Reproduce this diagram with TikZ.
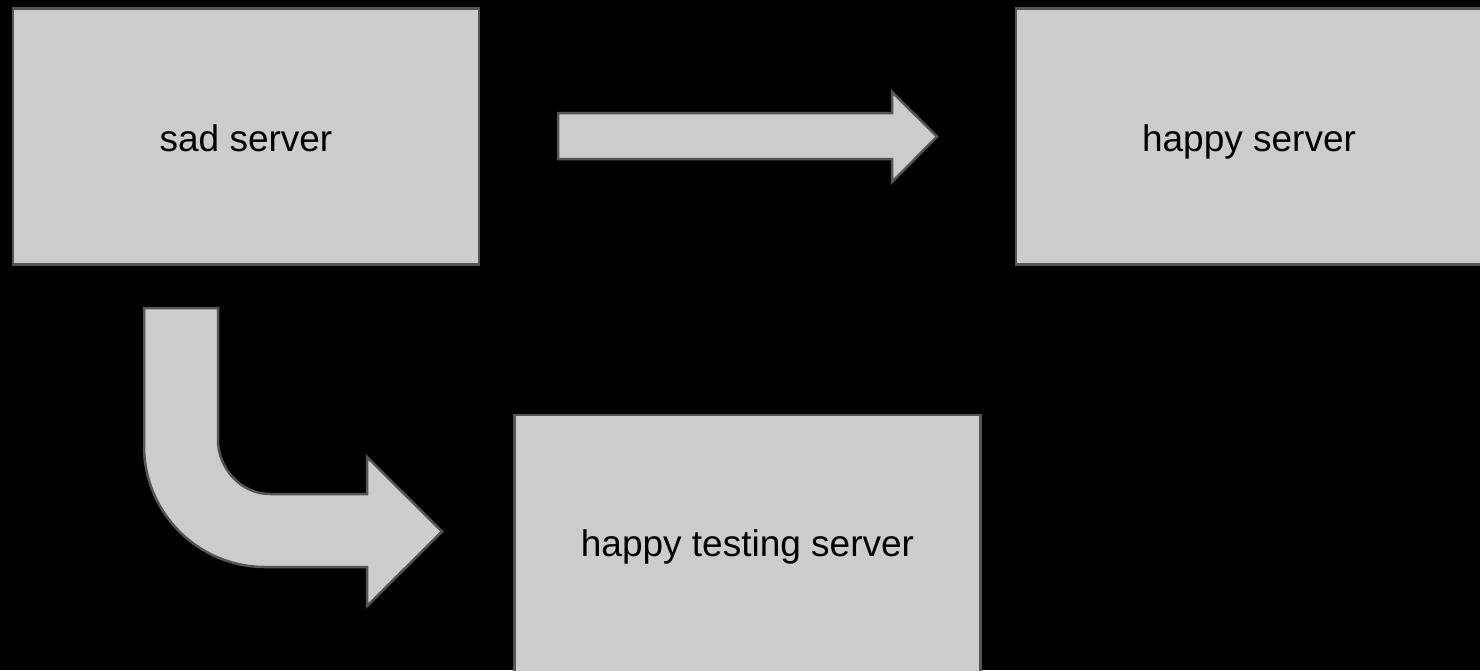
\documentclass[tikz,border=0pt]{standalone}
\usepackage{fontspec}
\setmainfont{Liberation Sans}
\usetikzlibrary{positioning,calc}
\definecolor{boxfill}{HTML}{CCCCCC}
\definecolor{boxline}{HTML}{555555}
\tikzset{
  server/.style = {draw=boxline, fill=boxfill, line width=2.5pt, inner sep=0pt,
                   minimum width=466pt, minimum height=256pt,
                   text height=30pt, text depth=0pt,
                   font=\fontsize{37}{44}\selectfont},
  blockarrow/.style = {draw=boxline, fill=boxfill, line width=2.5pt, line join=miter},
}

\begin{document}
\begin{tikzpicture}[x=1pt,y=-1pt]
\fill[black] (0,0) rectangle (1480,670);
\useasboundingbox (0,0) rectangle (1480,670);
\clip (0,0) rectangle (1480,670);

\node[server] (sad) at (246,136.5) {sad server};
\node[server] (happy) at (1249,136.5) {happy server};
\node[server, minimum height=260pt, text height=23.4pt] (testing) at (747.5,545) {happy testing server};

% straight arrow
\draw[blockarrow] (558,113) -- (892,113) -- (892,92) -- (937,136.5)
  -- (892,182) -- (892,159) -- (558,159) -- cycle;

% bent arrow
\draw[blockarrow] (144,308) -- (218,308) -- (218,440)
  .. controls (218,468.7) and (241.3,494) .. (270,494)
  -- (367,494) -- (367,457) -- (442,531.5) -- (367,606) -- (367,567) -- (265,567)
  .. controls (198.2,567) and (144,512.8) .. (144,446) -- cycle;
\end{tikzpicture}
\end{document}
